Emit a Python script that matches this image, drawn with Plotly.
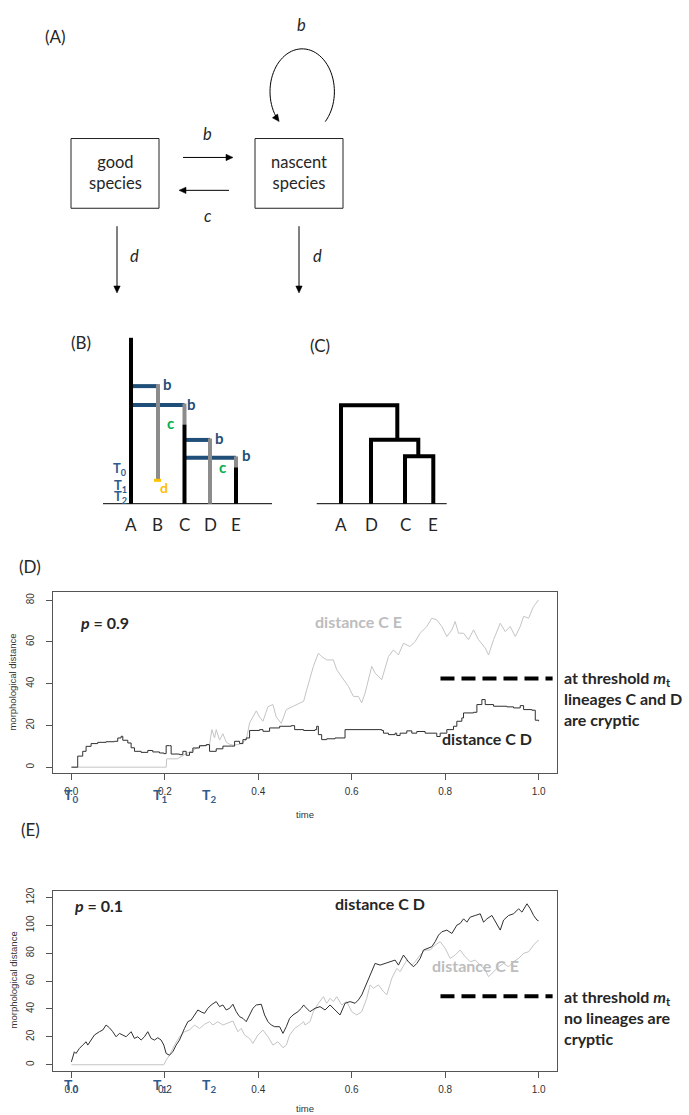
import math
import plotly.graph_objects as go

W, H = 689, 1115

# ------------------------------------------------------------------ data
time_ticks = [0.0, 0.2, 0.4, 0.6, 0.8, 1.0]
time_tick_labels = ["0.0", "0.2", "0.4", "0.6", "0.8", "1.0"]
d_yticks = [0, 20, 40, 60, 80]
e_yticks = [0, 20, 40, 60, 80, 100, 120]

# panel D (p = 0.9): distance C D
d_cd_time = [0.0, 0.0135, 0.0242, 0.0314, 0.0421, 0.0564, 0.0742, 0.092, 0.0992, 0.1064,
             0.11, 0.1207, 0.1278, 0.135, 0.1492, 0.1635, 0.1742, 0.1885, 0.1978, 0.2028,
             0.21, 0.2135, 0.2314, 0.2385, 0.2457, 0.2528, 0.26, 0.2742, 0.2885, 0.2957,
             0.31, 0.3243, 0.342, 0.3493, 0.36, 0.3671, 0.3742, 0.3814, 0.4028, 0.41,
             0.4242, 0.4457, 0.4707, 0.4778, 0.497,
             0.5214, 0.525, 0.5286, 0.5357, 0.5464, 0.5643, 0.5857, 0.6643, 0.6679, 0.6786,
             0.6929, 0.6964, 0.7036, 0.7179, 0.7286, 0.7393, 0.7571, 0.7821, 0.7893, 0.8036,
             0.8179, 0.825, 0.8357, 0.8393, 0.8607, 0.8679, 0.8786, 0.8857, 0.9036, 0.9321,
             0.9464, 0.9607, 0.9679, 0.9857, 0.9929, 1.0]
d_cd_dist = [0, 5.3, 7.6, 10, 11.3, 11.9, 12.2, 12.4, 14, 14.8,
             12.9, 11.6, 9.3, 7.6, 7.1, 8, 7.3, 6.8, 6.5, 10.3,
             10.3, 6.3, 6.0, 7.6, 5.7, 7.1, 9.2, 10.3, 10.8, 7.6,
             8.8, 10.1, 10.1, 12.4, 11.3, 13.2, 14, 17.6, 18, 17.2,
             18.8, 19.6, 19.9, 18, 17.6,
             18, 19.6, 15.6, 13.2, 13.6, 14, 18, 17.6, 16.3, 15.6,
             16.3, 15.2, 16.3, 17.4, 16.3, 17.1, 16.3, 14.7, 16.3, 18,
             19.6, 22, 23.6, 26, 26.3, 30, 32.4, 30, 29.2, 28.9,
             28.4, 29.5, 27.6, 27.3, 22.5, 22]

# panel D (p = 0.9): distance C E
d_ce_time = [0, 0.2028, 0.204, 0.2264, 0.2385, 0.2457, 0.26, 0.2742, 0.2885, 0.2957,
             0.3007, 0.3064, 0.31, 0.3171, 0.3243, 0.3314, 0.3386, 0.3457, 0.36, 0.3742,
             0.3814, 0.3885, 0.3957, 0.4028, 0.41, 0.4207, 0.4314, 0.4385, 0.4492, 0.46,
             0.4742, 0.4971, 0.5036, 0.5179, 0.5286, 0.5357, 0.5464, 0.5607, 0.5679, 0.5821,
             0.5929, 0.6036, 0.6143, 0.6214, 0.6286, 0.6429, 0.65, 0.6643, 0.6786, 0.6893,
             0.7, 0.7107, 0.725, 0.7357, 0.7464, 0.7607, 0.7714, 0.7821, 0.7929, 0.8036,
             0.8143, 0.8214, 0.8286, 0.8393, 0.85, 0.8607, 0.8714, 0.8857, 0.8929, 0.9036,
             0.9179, 0.9286, 0.9393, 0.95, 0.9607, 0.9679, 0.9786, 0.9893, 1.0]
d_ce_dist = [0, 0, 4, 4, 5.5, 6.5, 8, 10, 10.5, 11,
             18, 14, 18, 13, 16, 12, 11, 10.5, 11, 13,
             21.2, 24, 27, 24, 22, 29, 30, 24, 21, 27.6,
             29.2, 31.6, 37, 48.3, 54.6, 53, 51.4, 51.4, 46.7, 41.9,
             38.7, 33.9, 33.9, 30.8, 35.5, 48.3, 45.1, 41.9, 53, 56.2,
             53.8, 59.4, 57.8, 60.2, 64.2, 67.4, 71.4, 70.6, 67.4, 62.6,
             65.8, 69.8, 64.2, 64.2, 61.1, 65.8, 61.1, 57.1, 53.8, 61.1,
             69, 65, 67.4, 62.6, 67.4, 72.3, 71.4, 77, 80.2]

# panel E (p = 0.1): distance C D
e_cd_time = [0.0, 0.0063, 0.0099, 0.0171, 0.0242, 0.0314, 0.035, 0.0421, 0.0492, 0.0599,
             0.0671, 0.0742, 0.0813, 0.0885, 0.0956, 0.1028, 0.1099, 0.1171, 0.1278, 0.1349,
             0.1421, 0.1492, 0.1564, 0.1635, 0.1706, 0.1778, 0.1849, 0.1921, 0.1978, 0.2028,
             0.2099, 0.2171, 0.2242, 0.2314, 0.2421, 0.2492, 0.2564, 0.2635, 0.2707, 0.2778,
             0.2849, 0.2921, 0.2992, 0.31, 0.3171, 0.3242, 0.3314, 0.3386, 0.3457, 0.3528,
             0.36, 0.3671, 0.3742, 0.3814, 0.3885, 0.3957, 0.4064, 0.4135, 0.4207, 0.4278,
             0.435, 0.4457, 0.4528, 0.46, 0.4671, 0.4742, 0.4849, 0.4921, 0.4971,
             0.5, 0.5107, 0.5214, 0.5322, 0.5429, 0.5536, 0.5643, 0.575, 0.5857, 0.5965,
             0.6072, 0.6143, 0.6215, 0.6286, 0.6358, 0.6429, 0.65, 0.6608, 0.6715, 0.6822,
             0.6929, 0.7, 0.7108, 0.7215, 0.7322, 0.7393, 0.7465, 0.7536, 0.7643, 0.7715,
             0.7786, 0.7858, 0.7929, 0.8036, 0.8144, 0.8251, 0.8322, 0.8394, 0.8465, 0.8536,
             0.8644, 0.8751, 0.8822, 0.8894, 0.9001, 0.9108, 0.9179, 0.9251, 0.9358, 0.9465,
             0.9572, 0.9644, 0.9751, 0.9822, 0.9894, 0.9965, 1.0]
e_cd_dist = [2.1, 9.3, 8.1, 11.7, 14.1, 16.5, 14.1, 17.7, 21.3, 23.7,
             24.9, 28.5, 26.6, 23.7, 20.1, 22.5, 21.3, 20.1, 23.7, 18.9,
             20.1, 17.7, 20.1, 23.7, 18.9, 17.7, 19.4, 17.7, 14.1, 8.1,
             6.9, 9.3, 14.1, 17.7, 26.1, 30.9, 32.1, 35.7, 39.3, 37.9,
             36.9, 40.5, 42.9, 45.3, 41.7, 42.9, 39.3, 40.5, 43.4, 38.1,
             34.5, 33.3, 30.9, 35.7, 40.5, 42.9, 43.4, 35.7, 30.9, 28.5,
             27.3, 27.3, 22.5, 27.3, 33.3, 35.7, 38.1, 40.5, 42.9,
             41.7, 38.1, 40.5, 41.7, 39.3, 42.9, 39.3, 35.7, 44.1, 45.3,
             44.1, 46.5, 50.1, 56, 62, 68, 72.7, 71.5, 72.7, 73.9,
             75.1, 71.5, 78.7, 73.9, 70.3, 72.7, 76.3, 82.3, 83.5, 84.7,
             88.3, 93, 95.4, 96.6, 94.2, 100.2, 101.4, 104.7, 102.3, 105.9,
             107.1, 108.3, 102.3, 104.7, 107.1, 100.2, 96.6, 103.8, 107.1, 108.3,
             111.9, 109.5, 115.5, 111.9, 107.1, 103.8, 103.3]

# panel E (p = 0.1): distance C E
e_ce_time = [0, 0.1978, 0.2028, 0.2099, 0.2207, 0.2314, 0.2421, 0.2528, 0.2635, 0.2742,
             0.2849, 0.2957, 0.3028, 0.3135, 0.3242, 0.335, 0.3457, 0.3564, 0.3635, 0.3707,
             0.3814, 0.3885, 0.3992, 0.41, 0.4207, 0.4314, 0.4421, 0.4528, 0.46, 0.4671,
             0.4778, 0.4885, 0.4971,
             0.5, 0.5107, 0.5179, 0.5286, 0.5393, 0.5465, 0.5536, 0.5607, 0.5679, 0.5786,
             0.5893, 0.6, 0.6107, 0.6215, 0.6322, 0.6393, 0.6465, 0.6572, 0.6679, 0.675,
             0.6858, 0.6965, 0.7036, 0.7108, 0.7179, 0.7286, 0.7358, 0.7465, 0.7572, 0.7679,
             0.7786, 0.7893, 0.8001, 0.8108, 0.8215, 0.8322, 0.8429, 0.8536, 0.8644, 0.8751,
             0.8858, 0.8929, 0.9037, 0.9144, 0.9251, 0.9358, 0.9465, 0.9572, 0.9679, 0.9787,
             0.9894, 1.0]
e_ce_dist = [0, 0, 3.3, 6.9, 14.1, 20.1, 23.7, 24.9, 28.5, 26,
             29, 30.9, 28.5, 30.9, 28.5, 29.7, 31.4, 23.7, 26.1, 21.3,
             18.9, 15.3, 21.3, 24.9, 20.1, 14.1, 16.5, 12.2, 14.1, 21.3,
             26.1, 28.5, 30.9,
             28.5, 30.9, 38.1, 44.1, 48.8, 44.1, 47.7, 45.3, 48.8, 42.9,
             45.3, 38.1, 35.7, 38.1, 47.7, 57.3, 54.9, 57.3, 52.5, 50.1,
             62, 69.1, 66.8, 71.5, 75.1, 71.5, 73.9, 78.7, 82.3, 82.3,
             85.9, 88.3, 83.5, 76.3, 78.7, 82.3, 77.5, 73.9, 75.1, 71.5,
             67.9, 63.2, 66.8, 70.3, 72.7, 70.3, 73.9, 76.3, 79.9, 81.1,
             85.9, 89.5]

threshold_time = [0.79, 1.03]
d_threshold = 42.5
e_threshold = 49.1

event_times = [0.0, 0.19, 0.295]
event_labels = ["T<sub>0</sub>", "T<sub>1</sub>", "T<sub>2</sub>"]

tree_b_tips = ["A", "B", "C", "D", "E"]
tree_c_tips = ["A", "D", "C", "E"]

# ------------------------------------------------------------------ styles
FONT = "Lato, 'Open Sans', sans-serif"
AXFONT = "'Liberation Sans', Arial, sans-serif"
TXT = "#262626"
BLUE = "#1F4E79"
TBLUE = "#2F5C8F"
GREY_TREE = "#8C8C8C"
GREEN = "#00B050"
GOLD = "#FFC000"
CD_COL = "#303030"
CE_COL = "#C4C4C4"

fig = go.Figure()

# time series traces
fig.add_trace(go.Scatter(x=d_ce_time, y=d_ce_dist, mode="lines",
                         line=dict(color=CE_COL, width=1), xaxis="x", yaxis="y"))
fig.add_trace(go.Scatter(x=d_cd_time, y=d_cd_dist, mode="lines",
                         line=dict(color=CD_COL, width=1, shape="hv"), xaxis="x", yaxis="y"))
fig.add_trace(go.Scatter(x=threshold_time, y=[d_threshold] * 2, mode="lines",
                         line=dict(color="black", width=4, dash="14px,7px"), xaxis="x", yaxis="y"))

fig.add_trace(go.Scatter(x=e_ce_time, y=e_ce_dist, mode="lines",
                         line=dict(color=CE_COL, width=1), xaxis="x2", yaxis="y2"))
fig.add_trace(go.Scatter(x=e_cd_time, y=e_cd_dist, mode="lines",
                         line=dict(color=CD_COL, width=1), xaxis="x2", yaxis="y2"))
fig.add_trace(go.Scatter(x=threshold_time, y=[e_threshold] * 2, mode="lines",
                         line=dict(color="black", width=4, dash="14px,7px"), xaxis="x2", yaxis="y2"))

# invisible trace to hold the pixel overlay axes
fig.add_trace(go.Scatter(x=[0], y=[0], mode="markers", marker=dict(opacity=0),
                         xaxis="x3", yaxis="y3", hoverinfo="skip"))

shapes = []
annotations = []


def line(x0, y0, x1, y1, color="black", width=1):
    shapes.append(dict(type="line", xref="x3", yref="y3", x0=x0, y0=y0, x1=x1, y1=y1,
                       line=dict(color=color, width=width), layer="above"))


def path(d, color="black", width=1, fill=None):
    s = dict(type="path", xref="x3", yref="y3", path=d,
             line=dict(color=color, width=width), layer="above")
    if fill:
        s["fillcolor"] = fill
    shapes.append(s)


def head(tx, ty, dx, dy, size=7, half=3.2):
    n = math.hypot(dx, dy)
    ux, uy = dx / n, dy / n
    bx, by = tx - ux * size, ty - uy * size
    px, py = -uy * half, ux * half
    path(f"M {tx} {ty} L {bx + px} {by + py} L {bx - px} {by - py} Z", width=0.5, fill="black")


def arrow(x0, y0, x1, y1):
    dx, dy = x1 - x0, y1 - y0
    n = math.hypot(dx, dy)
    line(x0, y0, x1 - dx / n * 5, y1 - dy / n * 5, width=1)
    head(x1, y1, dx, dy)


def text(x, y, s, size=16, color=TXT, xanchor="center", yanchor="middle", family=FONT, **kw):
    annotations.append(dict(x=x, y=y, xref="x3", yref="y3", text=s, showarrow=False,
                            xanchor=xanchor, yanchor=yanchor,
                            font=dict(size=size, color=color, family=family), **kw))


# ------------------------------------------------------------------ panel A
text(55, 33, "(A)", size=17)
shapes.append(dict(type="rect", xref="x3", yref="y3", x0=71, y0=135, x1=159, y1=205,
                   line=dict(color="#222", width=1)))
shapes.append(dict(type="rect", xref="x3", yref="y3", x0=255, y0=135, x1=343, y1=205,
                   line=dict(color="#222", width=1)))
text(115, 169, "good<br>species", size=16.5)
text(299, 169, "nascent<br>species", size=16.5)
arrow(183, 154, 233, 154)
arrow(229, 187, 179, 187)
text(207, 130, "<i>b</i>", size=16.5)
text(208, 213, "<i>c</i>", size=16.5)
arrow(117, 223, 117, 290)
arrow(299, 223, 299, 290)
text(134, 253, "<i>d</i>", size=16.5)
text(317, 253, "<i>d</i>", size=16.5)
text(301, 21, "<i>b</i>", size=16.5)
# self loop (elliptical arc)
cx, cy, rx, ry = 302.2, 88.0, 32.2, 43.0
t0, t1 = -0.772, math.pi + 0.69
pts = []
steps = 60
for i in range(steps + 1):
    t = t0 + (t1 - t0) * i / steps
    pts.append((cx + rx * math.cos(t), cy - ry * math.sin(t)))
path("M " + " L ".join(f"{x:.2f} {y:.2f}" for x, y in pts), width=1)
te = math.pi + 0.772
head(cx + rx * math.cos(te), cy - ry * math.sin(te),
     -rx * math.sin(te), -ry * math.cos(te))

# ------------------------------------------------------------------ panel B
text(81, 340, "(B)", size=17)
line(103, 501.5, 272, 501.5, width=1)
line(131, 383.5, 158, 383.5, color=BLUE, width=4)
line(131, 402.5, 184.5, 402.5, color=BLUE, width=4)
line(184.5, 437.5, 210, 437.5, color=BLUE, width=4)
line(184.5, 455.5, 236, 455.5, color=BLUE, width=4)
line(131, 335, 131, 501.5, color="black", width=4)
line(158, 381.5, 158, 478, color=GREY_TREE, width=4)
line(154, 478, 161, 478, color=GOLD, width=3)
line(184.5, 401, 184.5, 422, color=GREY_TREE, width=4)
line(184.5, 422, 184.5, 501.5, color="black", width=4)
line(210, 436, 210, 501.5, color=GREY_TREE, width=4)
line(236, 454, 236, 465, color=GREY_TREE, width=4)
line(236, 465, 236, 501.5, color="black", width=4)
for bx, by in [(167, 381), (191.5, 401), (219, 436), (246, 453)]:
    text(bx, by, "<b>b</b>", size=15, color=BLUE)
text(170.5, 421, "<b>c</b>", size=15, color=GREEN)
text(222, 465, "<b>c</b>", size=15, color=GREEN)
text(163.5, 485, "<b>d</b>", size=14, color=GOLD)
text(120, 467, "<b>T<sub>0</sub></b>", size=13, color=TBLUE)
text(120, 484, "<b>T<sub>1</sub></b>", size=13, color=TBLUE)
text(120, 495, "<b>T<sub>2</sub></b>", size=13, color=TBLUE)
for tx, tip in zip([131, 157.5, 184.5, 210, 236], tree_b_tips):
    text(tx, 522, tip, size=17)

# ------------------------------------------------------------------ panel C
text(320, 343, "(C)", size=17)
line(316.7, 501.5, 446.7, 501.5, width=1)
path("M 341 501.5 V 402.7 H 397.3 V 437.3", width=4)
path("M 371 501.5 V 437.3 H 418.3 V 454", width=4)
path("M 405 501.5 V 454 H 433.3 V 501.5", width=4)
for tx, tip in zip([341, 371, 405, 433.3], tree_c_tips):
    text(tx, 522, tip, size=17)

# ------------------------------------------------------------------ panels D / E labels
text(30, 565, "(D)", size=17)
text(30, 828, "(E)", size=17)

for ax_x, ylab_y, time_y, evt_y, p_txt, p_xy in [
        ("x", 681, 813, 794, "<b><i>p</i> = 0.9</b>", (78, 621)),
        ("x2", 980, 1108, 1085, "<b><i>p</i> = 0.1</b>", (72, 905))]:
    text(13, ylab_y, "morphological distance", size=9.5, family=AXFONT, color="#333",
         textangle=-90)
    text(305, time_y, "time", size=9.5, family=AXFONT, color="#333")
    text(p_xy[0], p_xy[1], p_txt, size=16, xanchor="left")
    for et, el in zip(event_times, event_labels):
        annotations.append(dict(x=et, y=evt_y, xref=ax_x, yref="y3", text=f"<b>{el}</b>",
                                showarrow=False, xanchor="center", yanchor="middle",
                                font=dict(size=14, color=TBLUE, family=FONT)))

text(313, 620, "<b>distance C E</b>", size=16, color="#BDBDBD", xanchor="left")
text(440, 737, "<b>distance C D</b>", size=16, xanchor="left")
text(562, 697, "<b>at threshold <i>m</i><sub>t</sub><br>lineages C and D<br>are cryptic</b>",
     size=16, xanchor="left", align="left")

text(333, 903, "<b>distance C D</b>", size=16, xanchor="left")
text(430, 965, "<b>distance C E</b>", size=16, color="#BDBDBD", xanchor="left")
text(562, 1017, "<b>at threshold <i>m</i><sub>t</sub><br>no lineages are<br>cryptic</b>",
     size=16, xanchor="left", align="left")

# ------------------------------------------------------------------ axes
xr = [-0.0394, 1.0394]
common_x = dict(range=xr, tickvals=time_ticks, ticktext=time_tick_labels, showline=True,
                mirror=True, linecolor="#555", linewidth=1, ticks="outside", ticklen=6,
                tickcolor="#555", showgrid=False, zeroline=False,
                tickfont=dict(size=10, family=AXFONT, color="#333"), ticklabelstandoff=3)
common_y = dict(showline=True, mirror=True, linecolor="#555", linewidth=1, ticks="outside",
                ticklen=6, tickcolor="#555", showgrid=False, zeroline=False, tickangle=-90,
                tickfont=dict(size=10, family=AXFONT, color="#333"), ticklabelstandoff=8)

fig.update_layout(
    width=W, height=H, autosize=False,
    margin=dict(l=0, r=0, t=0, b=0),
    paper_bgcolor="white", plot_bgcolor="rgba(0,0,0,0)",
    showlegend=False,
    xaxis=dict(domain=[53 / W, 557 / W], anchor="y", **common_x),
    yaxis=dict(domain=[1 - 772 / H, 1 - 590 / H], anchor="x", range=[-2.9, 84],
               tickvals=d_yticks, **common_y),
    xaxis2=dict(domain=[53 / W, 557 / W], anchor="y2", **common_x),
    yaxis2=dict(domain=[1 - 1071 / H, 1 - 890 / H], anchor="x2", range=[-4.6, 124.8],
                tickvals=e_yticks, **common_y),
    xaxis3=dict(domain=[0, 1], range=[0, W], visible=False, anchor="y3", fixedrange=True),
    yaxis3=dict(domain=[0, 1], range=[H, 0], visible=False, anchor="x3", fixedrange=True),
    shapes=shapes,
    annotations=annotations,
)

fig.write_html("out.html")
